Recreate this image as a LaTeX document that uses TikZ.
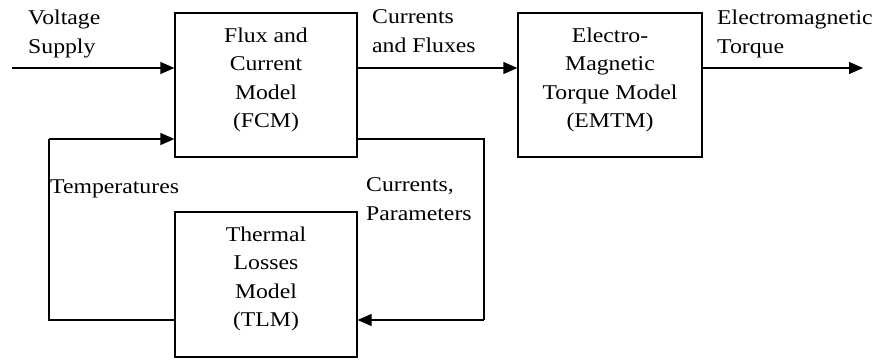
\documentclass[tikz,border=0pt]{standalone}
\usepackage{fontspec}
\setmainfont{Liberation Serif}[FakeStretch=1.13]
\usetikzlibrary{arrows.meta}

\tikzset{
  block/.style={draw=black, line width=1.2pt, rectangle, inner sep=0pt},
  blocktext/.style={align=center, inner sep=0pt,
    font=\fontsize{21pt}{28.5pt}\selectfont},
  % anchored at the baseline of the last line
  sig/.style={anchor=base west, align=left, inner sep=0pt,
    font=\fontsize{21pt}{28.5pt}\selectfont},
  wire/.style={line width=1.2pt},
  flow/.style={wire, -{Triangle[length=14pt, width=12pt]}}
}

\begin{document}
\begin{tikzpicture}[x=1pt, y=-1pt]
  \useasboundingbox (0,0) rectangle (878,360);

  % blocks
  \node[block, minimum width=182pt, minimum height=144pt] (fcm)  at (266,85)  {};
  \node[block, minimum width=184pt, minimum height=144pt] (emtm) at (610,85)  {};
  \node[block, minimum width=182pt, minimum height=145pt] (tlm)  at (266,284.5) {};

  \node[blocktext] (fcmtext)  at (266,80)  {Flux and\\Current\\Model\\(FCM)};
  \node[blocktext] (emtmtext) at (610,80)  {Electro-\\Magnetic\\Torque Model\\(EMTM)};
  \node[blocktext] (tlmtext)  at (266,279) {Thermal\\Losses\\Model\\(TLM)};

  % signal labels
  \node[sig] (lvolt) at (28,53)   {Voltage\\Supply};
  \node[sig] (lcf)   at (372,52)  {Currents\\and Fluxes};
  \node[sig] (ltq)   at (717,53)  {Electromagnetic\\Torque};
  \node[sig] (ltemp) at (50,193)  {Temperatures};
  \node[sig] (lcp)   at (366,220) {Currents,\\Parameters};

  % loose ends and corners
  \coordinate (vin)  at (12,68);
  \coordinate (tout) at (863,68);
  \coordinate (lc1)  at (49,139);
  \coordinate (lc2)  at (49,320);
  \coordinate (rc1)  at (484,139);
  \coordinate (rc2)  at (484,320);

  % main forward path
  \draw[flow] (vin) -- (vin -| fcm.west);
  \draw[flow] (fcm.east |- vin) -- (emtm.west |- vin);
  \draw[flow] (emtm.east |- tout) -- (tout);

  % thermal feedback loop
  \draw[wire] (tlm.west |- lc2) -- (lc2) -- (lc1);
  \draw[flow] (lc1) -- (lc1 -| fcm.west);
  \draw[wire] (fcm.east |- rc1) -- (rc1) -- (rc2);
  \draw[flow] (rc2) -- (rc2 -| tlm.east);
\end{tikzpicture}
\end{document}
